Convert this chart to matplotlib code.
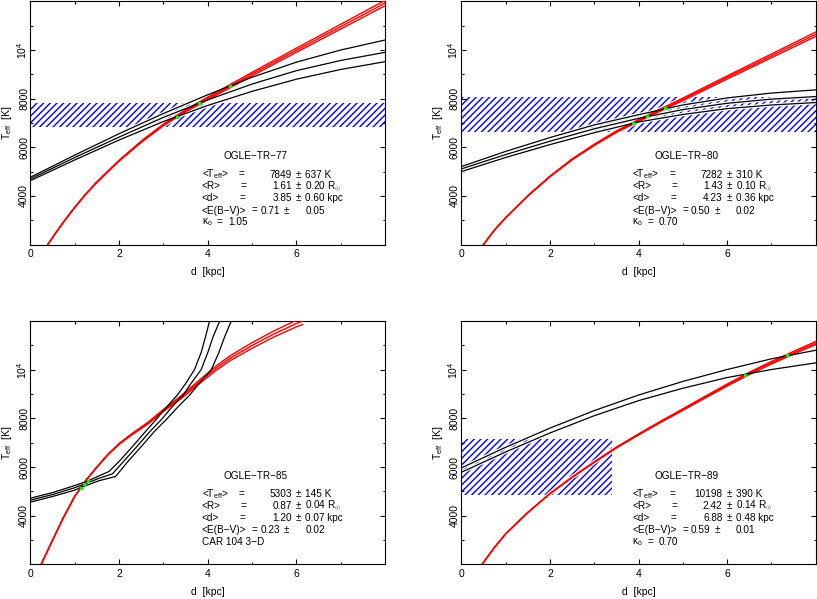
import matplotlib
matplotlib.use("Agg")
import matplotlib.pyplot as plt
from matplotlib.patches import Rectangle
from matplotlib.ticker import FixedLocator, FixedFormatter

# ---- OGLE-TR-77 (haut gauche) ----
tl_d = [0, 1, 2, 3, 4, 5, 6, 7, 8]
tl_black_top = [4770, 5680, 6560, 7390, 8160, 8880, 9500, 10000, 10410]
tl_black_mid = [4700, 5580, 6420, 7230, 7950, 8600, 9150, 9570, 9905]
tl_black_bot = [4630, 5480, 6300, 7060, 7720, 8300, 8800, 9200, 9520]
tl_red_d = [0.39, 0.6, 0.8, 1.0, 1.25, 1.5, 2, 2.5, 3, 3.5, 4, 4.5, 5, 6, 7, 8]
tl_red_hi = [2000, 2565, 3068, 3540, 4092, 4585, 5470, 6258, 6955, 7545, 8065, 8575, 9082, 10075, 11058, 12040]
tl_red_mid = [2000, 2560, 3060, 3530, 4080, 4570, 5450, 6230, 6920, 7500, 8010, 8510, 9010, 9990, 10960, 11930]
tl_red_lo = [2000, 2555, 3052, 3520, 4068, 4555, 5430, 6202, 6885, 7455, 7955, 8445, 8938, 9905, 10862, 11820]
tl_dots_d = [3.31, 3.81, 4.51]
tl_dots_t = [7263, 7815, 8527]
tl_band = [0, 8, 6830, 7815]
tl_stats = ["7849", "637", "1.61", "0.20", "3.85", "0.60", "0.71", "0.05"]

# ---- OGLE-TR-80 (haut droite) ----
tr_d = [0, 1, 2, 3, 4, 5, 6, 7, 8]
tr_black_top = [5206, 5830, 6400, 6920, 7340, 7740, 8030, 8230, 8362]
tr_black_mid = [5111, 5700, 6250, 6760, 7190, 7550, 7810, 7980, 8086]
tr_black_bot = [5000, 5580, 6110, 6600, 7040, 7350, 7590, 7740, 7840]
tr_red_d = [0.5, 0.75, 1, 1.5, 2, 2.5, 3, 3.5, 4, 4.5, 5, 6, 7, 8]
tr_red_hi = [2000, 2604, 3106, 4010, 4815, 5520, 6126, 6672, 7140, 7586, 8022, 8934, 9837, 10740]
tr_red_mid = [2000, 2600, 3100, 4000, 4800, 5500, 6100, 6640, 7100, 7540, 7970, 8870, 9760, 10650]
tr_red_lo = [2000, 2596, 3094, 3990, 4785, 5480, 6074, 6608, 7060, 7494, 7918, 8806, 9683, 10560]
tr_dots_d = [3.88, 4.20, 4.59]
tr_dots_t = [6992, 7292, 7609]
tr_band = [0, 8, 6646, 8086]
tr_stats = ["7282", "310", "1.43", "0.10", "4.23", "0.36", "0.50", "0.02"]

# ---- OGLE-TR-85 (bas gauche) ----
bl_top_d = [0, 0.5, 1.0, 1.3, 1.55, 1.77, 2.0, 2.3, 2.6, 2.83, 3.05, 3.32, 3.5, 3.7, 3.85, 3.95, 4.04]
bl_top_t = [4720, 4950, 5240, 5431, 5640, 5815, 6230, 6840, 7470, 7942, 8420, 8971, 9430, 10000, 10700, 11350, 12000]
bl_mid_d = [0, 0.5, 1.0, 1.21, 1.55, 1.85, 2.1, 2.4, 2.7, 2.95, 3.17, 3.45, 3.62, 3.85, 4.0, 4.12, 4.27]
bl_mid_t = [4640, 4870, 5150, 5294, 5540, 5720, 6230, 6840, 7470, 7942, 8420, 8971, 9430, 10000, 10700, 11350, 12000]
bl_bot_d = [0, 0.5, 1.0, 1.13, 1.55, 1.92, 2.2, 2.5, 2.8, 3.06, 3.3, 3.6, 3.8, 4.08, 4.25, 4.38, 4.53]
bl_bot_t = [4560, 4790, 5050, 5157, 5440, 5610, 6230, 6840, 7470, 7942, 8420, 8971, 9430, 10000, 10700, 11350, 12000]
bl_red_d = [0.24, 0.5, 0.75, 1.0, 1.25, 1.5, 1.75, 2.0, 2.27, 2.65, 3.02, 3.4, 3.78, 4.16, 4.5, 5.0, 5.5, 6.0, 6.14]
bl_red_hi = [2000, 3003, 3955, 4808, 5460, 6012, 6535, 6970, 7350, 7840, 8399, 8935, 9526, 10117, 10570, 11115, 11605, 12035, 12140]
bl_red_mid = [2000, 3000, 3950, 4800, 5450, 6000, 6520, 6950, 7325, 7805, 8354, 8875, 9451, 10027, 10470, 11000, 11480, 11900, 12000]
bl_red_lo = [2000, 2997, 3945, 4792, 5440, 5988, 6505, 6930, 7300, 7770, 8309, 8815, 9376, 9937, 10370, 10885, 11355, 11765, 11860]
bl_dots_d = [1.13, 1.21, 1.30]
bl_dots_t = [5157, 5294, 5431]
bl_stats = ["5303", "145", "0.87", "0.04", "1.20", "0.07", "0.23", "0.02"]

# ---- OGLE-TR-89 (bas droite) ----
br_d = [0, 1, 2, 3, 4, 5, 6, 7, 8]
br_black_top = [5963, 6810, 7600, 8320, 8960, 9520, 10010, 10450, 10802]
br_black_bot = [5782, 6620, 7400, 8110, 8730, 9240, 9680, 10010, 10284]
br_red_d = [0.47, 0.75, 1.0, 1.5, 2.0, 2.5, 3.0, 3.5, 4.0, 4.5, 5.0, 5.5, 6.0, 6.5, 7.0, 7.5, 8.0]
br_red_hi = [2000, 2702, 3253, 4135, 4913, 5590, 6214, 6818, 7362, 7887, 8392, 8907, 9412, 9898, 10343, 10758, 11165]
br_red_mid = [2000, 2700, 3250, 4130, 4905, 5580, 6200, 6800, 7340, 7860, 8360, 8870, 9370, 9850, 10290, 10700, 11100]
br_red_lo = [2000, 2698, 3247, 4125, 4897, 5570, 6186, 6782, 7318, 7833, 8328, 8833, 9328, 9802, 10237, 10642, 11035]
br_dots_d = [6.40, 7.35]
br_dots_t = [9802, 10597]
br_band = [0, 3.41, 4864, 7169]
br_stats = ["10198", "390", "2.42", "0.14", "6.88", "0.48", "0.59", "0.01"]

plt.rcParams["font.family"] = ["Liberation Sans", "DejaVu Sans"]
plt.rcParams["font.size"] = 7.2
plt.rcParams["mathtext.fontset"] = "custom"
plt.rcParams["mathtext.rm"] = "Liberation Sans"
plt.rcParams["mathtext.it"] = "Liberation Sans:italic"
plt.rcParams["hatch.linewidth"] = 1.0
plt.rcParams["hatch.color"] = "blue"

fig = plt.figure(figsize=(8.17, 5.99), dpi=100)
W = 354.5  # largeur des axes en pixels
pos = {
    "tl": [0.0373, 0.5917, 0.4339, 0.4060],
    "tr": [0.5646, 0.5917, 0.4339, 0.4060],
    "bl": [0.0373, 0.0579, 0.4339, 0.4060],
    "br": [0.5646, 0.0579, 0.4339, 0.4060],
}


def setup(ax):
    ax.set_xlim(0, 8)
    ax.set_ylim(2000, 12000)
    ax.xaxis.set_major_locator(FixedLocator([0, 2, 4, 6]))
    ax.xaxis.set_minor_locator(FixedLocator([1, 3, 5, 7]))
    ax.yaxis.set_major_locator(FixedLocator([4000, 6000, 8000, 10000]))
    ax.yaxis.set_major_formatter(FixedFormatter(["4000", "6000", "8000", r"$10^4$"]))
    ax.yaxis.set_minor_locator(FixedLocator([3000, 5000, 7000, 9000, 11000]))
    ax.tick_params(which="both", direction="in", top=True, right=True, width=0.8)
    ax.tick_params(which="major", length=3.6)
    ax.tick_params(which="minor", length=1.8)
    ax.tick_params(axis="x", pad=3.5, labelsize=7.5)
    ax.tick_params(axis="y", pad=1, labelsize=7.5, labelrotation=90)
    for lab in ax.get_yticklabels():
        lab.set_va("center")
    for s in ax.spines.values():
        s.set_linewidth(0.8)
    ax.set_xlabel("d  [kpc]", fontsize=7.5, labelpad=5.5)
    ax.set_ylabel(r"T$_{\rm eff}$  [K]", fontsize=7.5, labelpad=1)


def draw(ax, black, red, dots_d, dots_t, band):
    if band is not None:
        ax.add_patch(Rectangle((band[0], band[2]), band[1] - band[0], band[3] - band[2],
                               facecolor="none", edgecolor="blue", hatch="/////",
                               linewidth=0, zorder=1))
    for d, t in black + red:
        ax.plot(d, t, color="white", lw=2.6, zorder=2)
    for d, t in red:
        ax.plot(d, t, color="red", lw=1.0, zorder=3)
    for d, t in black:
        ax.plot(d, t, color="black", lw=0.9, zorder=3)
    ax.plot(dots_d, dots_t, "o", color="#00ff00", ms=2.6, mew=0, zorder=4)


def put(ax, xpx, yfrac, s, ha="left"):
    ax.text(0.483 + xpx / W, yfrac, s, transform=ax.transAxes, ha=ha, va="center")


def stats(ax, name, v, last):
    ys = [0.288, 0.239, 0.190, 0.140, 0.091]
    ax.text(0.636, 0.364, name, transform=ax.transAxes, ha="center", va="center")
    put(ax, 0, ys[0], r"<T$_{\rm eff}$>")
    put(ax, 0, ys[1], "<R>")
    put(ax, 0, ys[2], "<d>")
    put(ax, 40, ys[0], "=", "center")
    put(ax, 42, ys[1], "=", "center")
    put(ax, 41, ys[2], "=", "center")
    for i, unit in enumerate(["K", r"R$_{\odot}$", "kpc"]):
        put(ax, 90, ys[i], v[2 * i], "right")
        put(ax, 97, ys[i], "±", "center")
        put(ax, 103.5, ys[i], v[2 * i + 1] + " " + unit)
    put(ax, 0, ys[3], "<E(B−V)>")
    put(ax, 53, ys[3], "=", "center")
    put(ax, 58.5, ys[3], v[6])
    put(ax, 85, ys[3], "±", "center")
    put(ax, 103.5, ys[3], v[7])
    if last.startswith("κ"):
        put(ax, 0, ys[4], r"κ$_{\rm o}$")
        put(ax, 18, ys[4], "=", "center")
        put(ax, 26.5, ys[4], last[1:])
    else:
        put(ax, 0, ys[4], last)


ax = fig.add_axes(pos["tl"])
setup(ax)
draw(ax, [(tl_d, tl_black_top), (tl_d, tl_black_mid), (tl_d, tl_black_bot)],
     [(tl_red_d, tl_red_hi), (tl_red_d, tl_red_mid), (tl_red_d, tl_red_lo)],
     tl_dots_d, tl_dots_t, tl_band)
stats(ax, "OGLE−TR−77", tl_stats, "κ1.05")

ax = fig.add_axes(pos["tr"])
setup(ax)
draw(ax, [(tr_d, tr_black_top), (tr_d, tr_black_mid), (tr_d, tr_black_bot)],
     [(tr_red_d, tr_red_hi), (tr_red_d, tr_red_mid), (tr_red_d, tr_red_lo)],
     tr_dots_d, tr_dots_t, tr_band)
stats(ax, "OGLE−TR−80", tr_stats, "κ0.70")

ax = fig.add_axes(pos["bl"])
setup(ax)
draw(ax, [(bl_top_d, bl_top_t), (bl_mid_d, bl_mid_t), (bl_bot_d, bl_bot_t)],
     [(bl_red_d, bl_red_hi), (bl_red_d, bl_red_mid), (bl_red_d, bl_red_lo)],
     bl_dots_d, bl_dots_t, None)
stats(ax, "OGLE−TR−85", bl_stats, "CAR 104 3−D")

ax = fig.add_axes(pos["br"])
setup(ax)
draw(ax, [(br_d, br_black_top), (br_d, br_black_bot)],
     [(br_red_d, br_red_hi), (br_red_d, br_red_mid), (br_red_d, br_red_lo)],
     br_dots_d, br_dots_t, br_band)
stats(ax, "OGLE−TR−89", br_stats, "κ0.70")

fig.savefig("out.png", dpi=100)
